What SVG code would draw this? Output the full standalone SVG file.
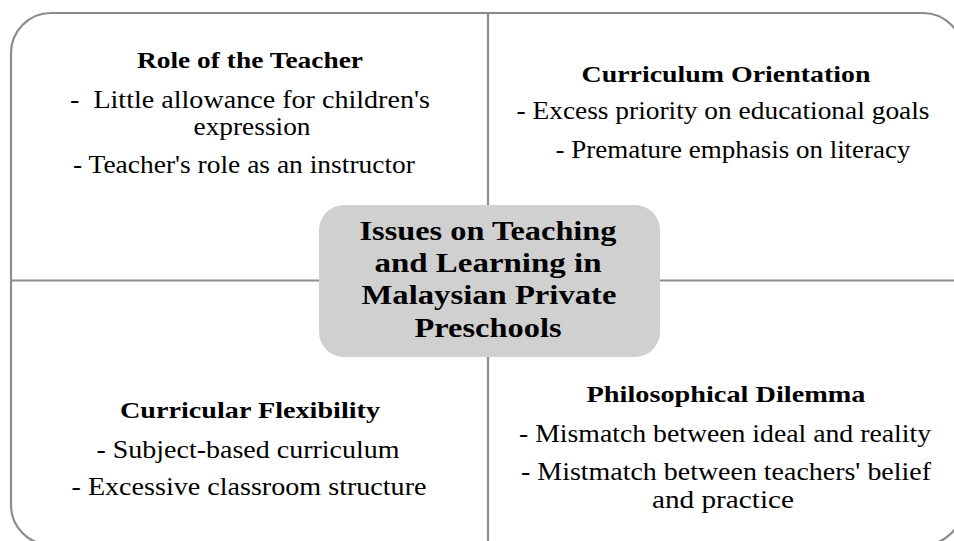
<svg xmlns="http://www.w3.org/2000/svg" width="954" height="541" viewBox="0 0 954 541">
  <style>
    .frame { fill: #ffffff; stroke: #8c8c8c; stroke-width: 2.2; }
    .div { stroke: #8c8c8c; stroke-width: 2.2; fill: none; }
    .center { fill: #d0d0d0; stroke: none; }
    text { font-family: "Liberation Serif", "Times New Roman", serif; fill: #000000; text-anchor: middle; }
    .h { font-size: 23.5px; font-weight: bold; }
    .b { font-size: 26px; }
    .t { font-size: 27px; font-weight: bold; }
  </style>
  <rect width="954" height="541" fill="#ffffff"/>
  <g id="frame">
    <rect class="frame" x="11" y="13" width="952" height="532" rx="40" ry="40"/>
  </g>
  <g id="connectors">
    <line class="div" x1="488" y1="13" x2="488" y2="545"/>
    <line class="div" x1="11" y1="280.5" x2="963" y2="280.5"/>
  </g>
  <g id="role-of-teacher">
    <text class="h" x="250" y="68" textLength="226" lengthAdjust="spacingAndGlyphs">Role of the Teacher</text>
    <text class="b" x="250" y="108" textLength="360" lengthAdjust="spacingAndGlyphs" xml:space="preserve">-  Little allowance for children's</text>
    <text class="b" x="252" y="135" textLength="117" lengthAdjust="spacingAndGlyphs">expression</text>
    <text class="b" x="244" y="173" textLength="342" lengthAdjust="spacingAndGlyphs">- Teacher's role as an instructor</text>
  </g>
  <g id="curriculum-orientation">
    <text class="h" x="726" y="82" textLength="289" lengthAdjust="spacingAndGlyphs">Curriculum Orientation</text>
    <text class="b" x="723" y="119" textLength="413" lengthAdjust="spacingAndGlyphs">- Excess priority on educational goals</text>
    <text class="b" x="733" y="158" textLength="355" lengthAdjust="spacingAndGlyphs">- Premature emphasis on literacy</text>
  </g>
  <g id="curricular-flexibility">
    <text class="h" x="250" y="418" textLength="260" lengthAdjust="spacingAndGlyphs">Curricular Flexibility</text>
    <text class="b" x="248" y="458" textLength="303" lengthAdjust="spacingAndGlyphs">- Subject-based curriculum</text>
    <text class="b" x="249" y="495" textLength="355" lengthAdjust="spacingAndGlyphs">- Excessive classroom structure</text>
  </g>
  <g id="philosophical-dilemma">
    <text class="h" x="726" y="402" textLength="279" lengthAdjust="spacingAndGlyphs">Philosophical Dilemma</text>
    <text class="b" x="725" y="442" textLength="412" lengthAdjust="spacingAndGlyphs">- Mismatch between ideal and reality</text>
    <text class="b" x="726" y="480" textLength="410" lengthAdjust="spacingAndGlyphs">- Mistmatch between teachers' belief</text>
    <text class="b" x="723" y="508" textLength="142" lengthAdjust="spacingAndGlyphs">and practice</text>
  </g>
  <g id="central-issue">
    <rect class="center" x="319" y="205" width="341" height="152" rx="25" ry="25"/>
    <text class="t" x="488" y="240" textLength="257" lengthAdjust="spacingAndGlyphs">Issues on Teaching</text>
    <text class="t" x="488" y="272" textLength="227" lengthAdjust="spacingAndGlyphs">and Learning in</text>
    <text class="t" x="489" y="304" textLength="255" lengthAdjust="spacingAndGlyphs">Malaysian Private</text>
    <text class="t" x="488" y="337" textLength="147" lengthAdjust="spacingAndGlyphs">Preschools</text>
  </g>
</svg>
